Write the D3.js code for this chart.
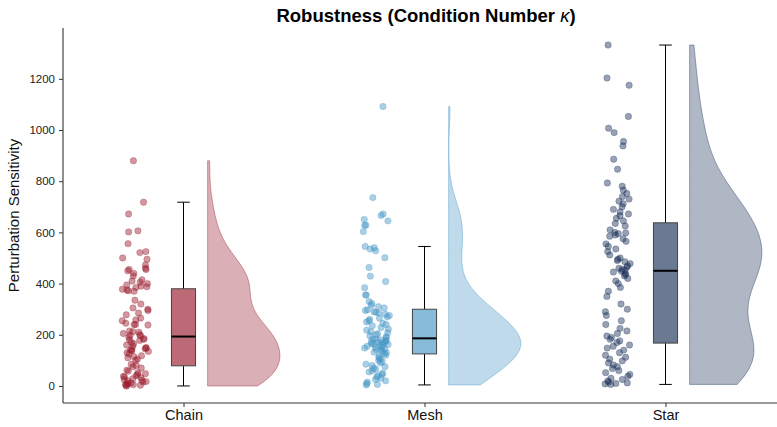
<!DOCTYPE html>
<html>
<head>
<meta charset="utf-8">
<script src="https://cdn.jsdelivr.net/npm/d3@7"></script>
<style>
  body { margin: 0; background: #fff; }
  text { font-family: "Liberation Sans", Arial, sans-serif; }
</style>
</head>
<body>
<div id="chart"></div>
<script>
var categories = ["Chain", "Mesh", "Star"];
var colors = ["#981a2d", "#4596c5", "#1b3159"];
var yTicks = [0, 200, 400, 600, 800, 1000, 1200];

// values
var chainValues = [880, 718, 672, 606, 602, 556, 525, 521, 500, 495, 473, 460, 455, 455, 450, 440, 430, 415, 410, 405, 400, 395, 390, 388, 385,
  378, 375, 372, 370, 335, 320, 305, 300, 295, 285, 278, 265, 258, 255, 245, 240, 240, 238, 215, 212, 210, 205, 200, 198, 196,
  190, 185, 182, 180, 178, 170, 165, 160, 155, 150, 148, 145, 142, 140, 138, 135, 130, 125, 118, 115, 110, 105, 100, 85, 80,
  75, 70, 62, 58, 52, 48, 45, 40, 38, 35, 32, 28, 25, 22, 20, 17, 15, 12, 10, 8, 6, 5, 3, 2, 0];
var meshValues = [1092, 736, 672, 666, 651, 645, 628, 628, 603, 545, 540, 535, 528, 501, 463, 429, 408, 384, 356, 355, 330, 322, 315, 310, 305,
  298, 295, 290, 288, 285, 280, 275, 270, 265, 260, 255, 250, 245, 240, 235, 228, 222, 218, 212, 208, 204, 200, 196, 192, 188,
  184, 182, 180, 178, 176, 174, 172, 170, 168, 166, 164, 162, 160, 158, 155, 152, 150, 148, 145, 142, 140, 136, 132, 130, 127,
  120, 115, 110, 105, 100, 95, 90, 85, 80, 75, 70, 65, 60, 55, 50, 45, 40, 35, 30, 25, 20, 15, 10, 6, 4];
var starValues = [1332, 1203, 1175, 1053, 1007, 990, 955, 938, 886, 847, 793, 780, 765, 752, 740, 730, 722, 712, 700, 690, 680, 672, 665, 655, 645,
  635, 625, 610, 600, 598, 595, 590, 585, 575, 565, 555, 545, 535, 525, 512, 500, 495, 490, 485, 478, 470, 465, 460, 455, 452,
  448, 445, 440, 435, 430, 420, 410, 400, 385, 370, 350, 320, 300, 290, 275, 255, 240, 225, 215, 205, 195, 190, 182, 176, 170,
  160, 155, 148, 140, 130, 120, 112, 105, 98, 90, 82, 75, 68, 60, 52, 45, 38, 30, 25, 20, 15, 12, 10, 8, 6];
var seriesValues = [chainValues, meshValues, starValues];

var width = 777, height = 427;
var margin = {top: 28, right: -9, bottom: 24, left: 63};

var svg = d3.select("#chart").append("svg")
  .attr("width", width)
  .attr("height", height);

var x = d3.scaleLinear().domain([-0.5, 2.5]).range([margin.left, width - margin.right]);
var y = d3.scaleLinear().domain([-66.6, 1398.6]).range([height - margin.bottom, margin.top]);

var rng = d3.randomUniform.source(d3.randomLcg(0.4217))(-0.055, 0.055);

function kde(values, n) {
  var sd = d3.deviation(values);
  var bw = sd * Math.pow(values.length, -0.2);
  var lo = d3.min(values), hi = d3.max(values);
  var pts = [];
  for (var i = 0; i <= n; i++) {
    var v = lo + (hi - lo) * i / n;
    var s = d3.sum(values, function (d) { var z = (v - d) / bw; return Math.exp(-0.5 * z * z); });
    pts.push([v, s]);
  }
  return pts;
}

seriesValues.forEach(function (vals, i) {
  var col = colors[i];
  var g = svg.append("g");
  var sorted = vals.slice().sort(d3.ascending);
  var q1 = d3.quantile(sorted, 0.25), med = d3.quantile(sorted, 0.5), q3 = d3.quantile(sorted, 0.75);
  var iqr = q3 - q1;
  var wLo = d3.min(sorted.filter(function (d) { return d >= q1 - 1.5 * iqr; }));
  var wHi = d3.max(sorted.filter(function (d) { return d <= q3 + 1.5 * iqr; }));

  // half violin
  var dens = kde(vals, 120);
  var maxD = d3.max(dens, function (d) { return d[1]; });
  var area = d3.area()
    .x0(x(i + 0.1))
    .x1(function (d) { return x(i + 0.1 + 0.3 * d[1] / maxD); })
    .y(function (d) { return y(d[0]); })
    .curve(d3.curveBasis);
  g.append("path")
    .datum(dens)
    .attr("d", area)
    .attr("fill", col)
    .attr("fill-opacity", 0.35)
    .attr("stroke", col)
    .attr("stroke-opacity", 0.4)
    .attr("stroke-width", 1);

  // box
  g.append("line")
    .attr("x1", x(i)).attr("x2", x(i))
    .attr("y1", y(wLo)).attr("y2", y(q1))
    .attr("stroke", "#000").attr("stroke-width", 1);
  g.append("line")
    .attr("x1", x(i)).attr("x2", x(i))
    .attr("y1", y(q3)).attr("y2", y(wHi))
    .attr("stroke", "#000").attr("stroke-width", 1);
  [wLo, wHi].forEach(function (w) {
    g.append("line")
      .attr("x1", x(i - 0.026)).attr("x2", x(i + 0.026))
      .attr("y1", y(w)).attr("y2", y(w))
      .attr("stroke", "#000").attr("stroke-width", 1);
  });
  g.append("rect")
    .attr("x", x(i - 0.05))
    .attr("width", x(i + 0.05) - x(i - 0.05))
    .attr("y", y(q3))
    .attr("height", y(q1) - y(q3))
    .attr("fill", col)
    .attr("fill-opacity", 0.65)
    .attr("stroke", "#444")
    .attr("stroke-width", 1);
  g.append("line")
    .attr("x1", x(i - 0.05)).attr("x2", x(i + 0.05))
    .attr("y1", y(med)).attr("y2", y(med))
    .attr("stroke", "#000").attr("stroke-width", 2);

  // jittered points
  g.selectAll("circle")
    .data(vals)
    .enter()
    .append("circle")
    .attr("cx", function () { return x(i - 0.2 + rng()); })
    .attr("cy", function (d) { return y(d); })
    .attr("r", 3.2)
    .attr("fill", col)
    .attr("fill-opacity", 0.45)
    .attr("stroke", col)
    .attr("stroke-opacity", 0.45)
    .attr("stroke-width", 0.6);
});

// axes
var yAxis = svg.append("g")
  .attr("transform", "translate(" + margin.left + ",0)")
  .call(d3.axisLeft(y).tickValues(yTicks).tickFormat(d3.format("d")).tickSize(4).tickPadding(4));
var xAxis = svg.append("g")
  .attr("transform", "translate(0," + (height - margin.bottom) + ")")
  .call(d3.axisBottom(x).tickValues([0, 1, 2]).tickFormat(function (d) { return categories[d]; }).tickSize(4).tickPadding(3));

yAxis.selectAll("text").attr("font-size", 11.5).attr("fill", "#222");
xAxis.selectAll("text").attr("font-size", 14.5).attr("fill", "#111");
[yAxis, xAxis].forEach(function (a) {
  a.select(".domain").attr("stroke", "#333").attr("stroke-width", 1.1);
  a.selectAll(".tick line").attr("stroke", "#333");
});
yAxis.select(".domain").attr("d", "M0," + (height - margin.bottom) + "V" + margin.top);
xAxis.select(".domain").attr("d", "M" + margin.left + ",0H" + width);

svg.append("text")
  .attr("transform", "translate(19," + ((margin.top + height - margin.bottom) / 2) + ") rotate(-90)")
  .attr("text-anchor", "middle")
  .attr("font-size", 15)
  .attr("fill", "#111")
  .text("Perturbation Sensitivity");

var title = svg.append("text")
  .attr("x", 426)
  .attr("y", 22)
  .attr("text-anchor", "middle")
  .attr("font-size", 18.5)
  .attr("font-weight", "bold")
  .attr("fill", "#000");
title.append("tspan").text("Robustness (Condition Number ");
title.append("tspan").attr("font-style", "italic").attr("font-weight", "normal").text("κ");
title.append("tspan").text(")");
</script>
</body>
</html>
